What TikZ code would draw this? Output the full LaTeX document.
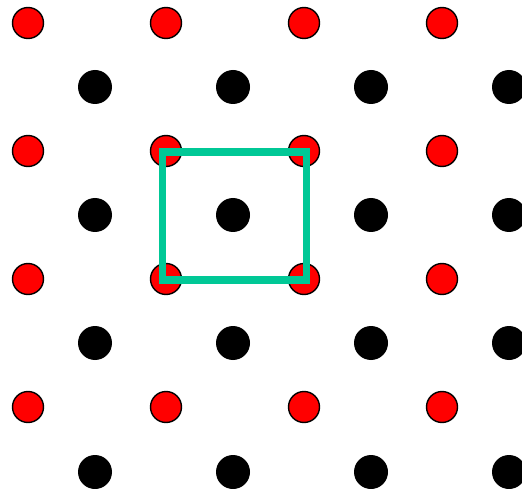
\documentclass[tikz,border=0pt]{standalone}
\usetikzlibrary{calc}
\definecolor{cellgreen}{RGB}{0,200,150}
\definecolor{ptred}{RGB}{255,0,0}
\tikzset{
  redpt/.style={circle, draw=black, line width=1.4pt, fill=ptred, minimum size=31pt, inner sep=0pt},
  blackpt/.style={circle, fill=black, minimum size=34pt, inner sep=0pt},
  cellbox/.style={draw=cellgreen, line width=7.5pt, line join=miter}
}
\begin{document}
\begin{tikzpicture}[x=1pt,y=-1pt]
\useasboundingbox (0,0) rectangle (522,489);
\begin{scope}
\clip (0,0) rectangle (522,489);
\foreach \i/\x in {0/28,1/166,2/304,3/442}{
  \foreach \j/\y in {0/23,1/151,2/279,3/407}{
    \node[redpt] (r\i\j) at (\x,\y) {};
  }
}
\foreach \i/\x in {0/95,1/233,2/371,3/509}{
  \foreach \j/\y in {0/87,1/215,2/343,3/472}{
    \node[blackpt] (b\i\j) at (\x,\y) {};
  }
}
\end{scope}
\coordinate (c1) at (162.5,152);
\coordinate (c2) at (306.5,280);
\draw[cellbox] (c1) rectangle (c2);
\end{tikzpicture}
\end{document}
